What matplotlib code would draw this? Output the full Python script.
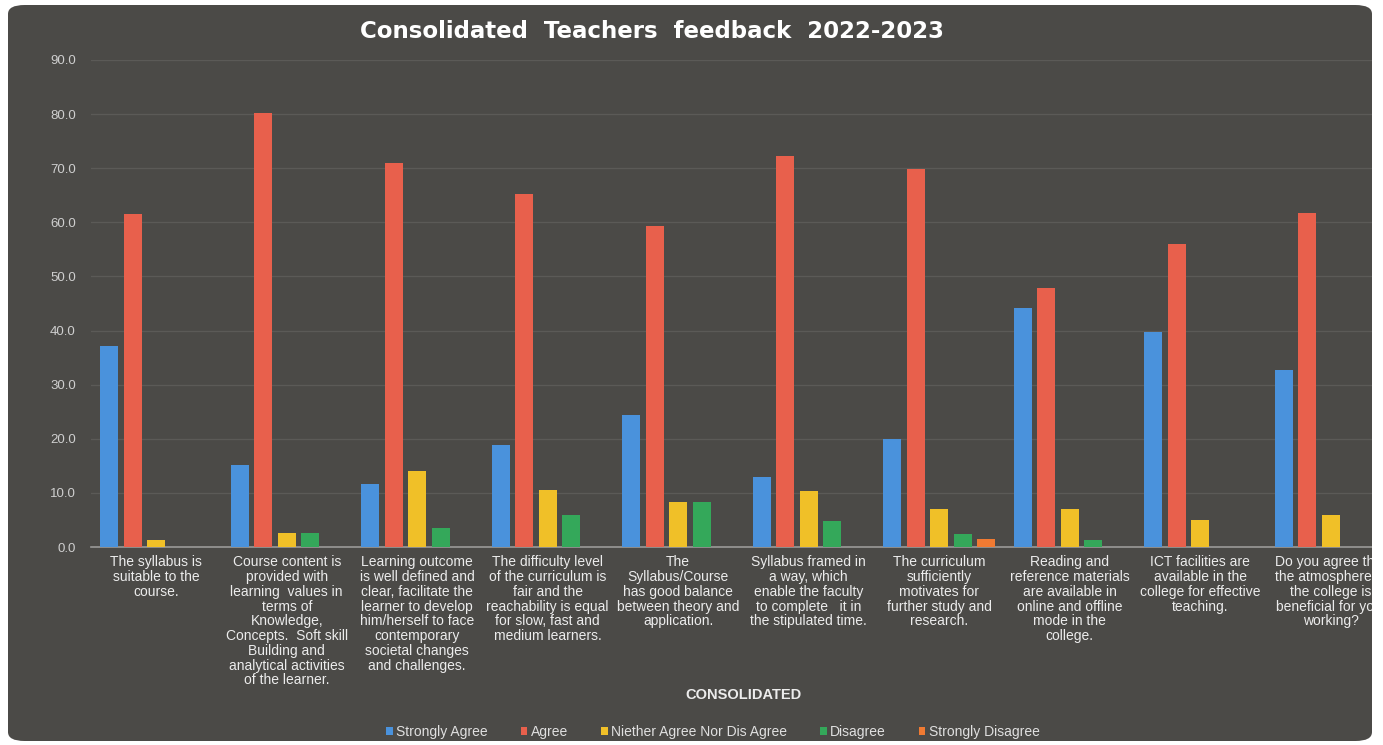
import matplotlib.pyplot as plt
import numpy as np
from matplotlib.patches import FancyBboxPatch, Rectangle

# data
categories = [
    "The syllabus is\nsuitable to the\ncourse.",
    "Course content is\nprovided with\nlearning  values in\nterms of\nKnowledge,\nConcepts.  Soft skill\nBuilding and\nanalytical activities\nof the learner.",
    "Learning outcome\nis well defined and\nclear, facilitate the\nlearner to develop\nhim/herself to face\ncontemporary\nsocietal changes\nand challenges.",
    "The difficulty level\nof the curriculum is\nfair and the\nreachability is equal\nfor slow, fast and\nmedium learners.",
    "The\nSyllabus/Course\nhas good balance\nbetween theory and\napplication.",
    "Syllabus framed in\na way, which\nenable the faculty\nto complete   it in\nthe stipulated time.",
    "The curriculum\nsufficiently\nmotivates for\nfurther study and\nresearch.",
    "Reading and\nreference materials\nare available in\nonline and offline\nmode in the\ncollege.",
    "ICT facilities are\navailable in the\ncollege for effective\nteaching.",
    "Do you agree that\nthe atmosphere in\nthe college is\nbeneficial for your\nworking?",
]
strongly_agree = [37.1, 15.2, 11.7, 18.8, 24.4, 12.9, 19.9, 44.2, 39.7, 32.8]
agree = [61.6, 80.2, 71.0, 65.3, 59.3, 72.2, 69.9, 47.8, 56.0, 61.7]
neither = [1.3, 2.5, 14.0, 10.5, 8.4, 10.4, 7.1, 7.1, 4.9, 6.0]
disagree = [0.0, 2.5, 3.6, 5.9, 8.4, 4.8, 2.4, 1.3, 0.0, 0.0]
strongly_disagree = [0.0, 0.0, 0.0, 0.0, 0.0, 0.0, 1.4, 0.0, 0.0, 0.0]

series = [
    ("Strongly Agree", strongly_agree, "#4a92dc"),
    ("Agree", agree, "#e8604c"),
    ("Niether Agree Nor Dis Agree", neither, "#f0c028"),
    ("Disagree", disagree, "#34a85a"),
    ("Strongly Disagree", strongly_disagree, "#f07a32"),
]

plt.rcParams['font.family'] = ['Liberation Sans', 'DejaVu Sans']

W, H = 1383, 745
fig = plt.figure(figsize=(W / 100, H / 100), dpi=100)
fig.patch.set_facecolor('white')

# dark rounded background panel
bg = FancyBboxPatch((8 / W, 4 / H), (1372 - 8) / W, (740 - 4) / H,
                    boxstyle="round,pad=0,rounding_size=0.012",
                    transform=fig.transFigure, facecolor='#4b4a47',
                    edgecolor='none', zorder=-10)
fig.patches.append(bg)
# the photo is cut at the right edge
cover = Rectangle((1372 / W, 0), 1 - 1372 / W, 1, transform=fig.transFigure,
                  facecolor='white', edgecolor='none', zorder=10)
fig.patches.append(cover)

ax = fig.add_axes([91 / W, (H - 547) / H, (1396 - 91) / W, (547 - 60) / H])
ax.set_facecolor('none')

x = np.arange(len(categories))
step = 0.18
bw = 0.138
for k, (name, vals, col) in enumerate(series):
    ax.bar(x + (k - 2) * step, vals, width=bw, color=col, label=name, zorder=3)

ax.set_ylim(0, 90)
ax.set_xlim(-0.5, len(categories) - 0.5)
ax.set_yticks(np.arange(0, 91, 10))
ax.set_yticklabels([f"{v:.1f}" for v in np.arange(0, 91, 10)],
                   color='#cfcfcf', fontsize=9.5)
ax.set_xticks(x)
ax.set_xticklabels(categories, color='#ececec', fontsize=10, linespacing=1.07,
                   va='top')
ax.tick_params(axis='both', length=0)
ax.tick_params(axis='x', pad=6)
ax.tick_params(axis='y', pad=11)

ax.grid(axis='y', color='#5b5a57', linewidth=0.9, zorder=0)
for s in ['top', 'right', 'left']:
    ax.spines[s].set_visible(False)
ax.spines['bottom'].set_color('#9a9a98')
ax.spines['bottom'].set_linewidth(1.2)

fig.text(652 / W, 1 - 31 / H, "Consolidated  Teachers  feedback  2022-2023",
         ha='center', va='center', color='white', fontsize=16.5,
         fontweight='bold', family='DejaVu Sans')
fig.text(744 / W, 1 - 695 / H, "CONSOLIDATED", ha='center', va='center',
         color='#ececec', fontsize=10.5, fontweight='bold')

leg = ax.legend(loc='center', bbox_to_anchor=(713 / W, 1 - 732 / H),
                bbox_transform=fig.transFigure, ncol=5, frameon=False,
                fontsize=10, handlelength=0.45, handleheight=0.45,
                handletextpad=0.25, columnspacing=2.4)
for t in leg.get_texts():
    t.set_color('#e0e0e0')

fig.savefig('out.png', dpi=100, facecolor='white')
